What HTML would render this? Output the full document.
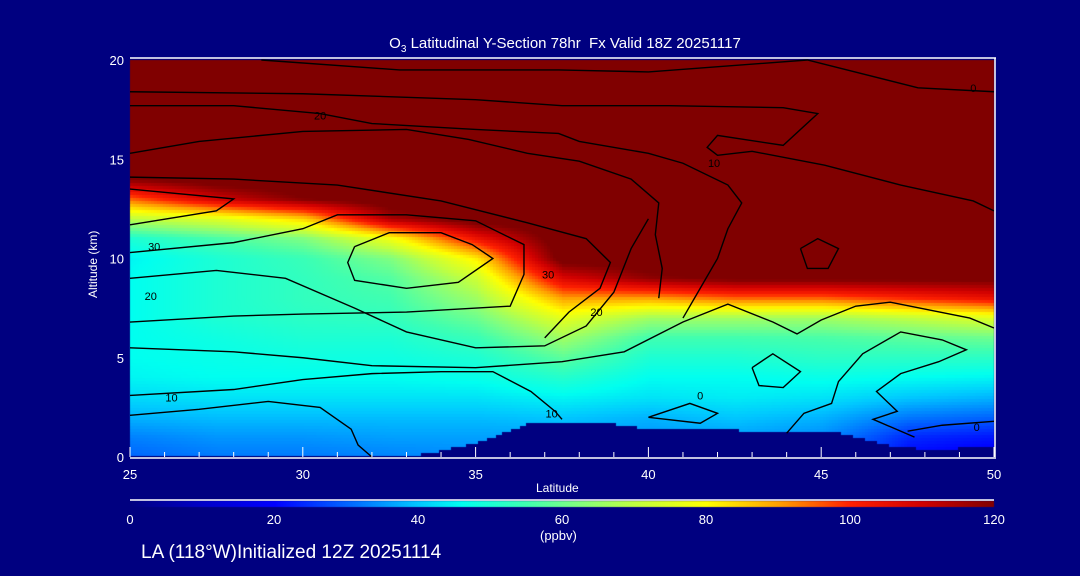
<!DOCTYPE html>
<html><head><meta charset="utf-8"><style>
body{margin:0;background:#000080;width:1080px;height:576px;overflow:hidden;font-family:"Liberation Sans",sans-serif;color:#fff}
#wrap{position:relative;width:1080px;height:576px}
.t{position:absolute;white-space:nowrap;color:#fff}
canvas,svg{position:absolute;left:0;top:0}
</style></head><body>
<div id="wrap">
<canvas id="field" width="1080" height="576"></canvas>
<svg id="ov" width="1080" height="576"></svg>
<div class="t" style="left:0;width:1130px;text-align:center;top:35px;font-size:15px">O<sub style="font-size:10px">3</sub> Latitudinal Y-Section 78hr&nbsp; Fx Valid 18Z 20251117</div>
<div class="t" style="left:86px;font-size:12px;transform:rotate(-90deg);transform-origin:0 0;top:298px">Altitude (km)</div>
<div class="t" style="left:536px;top:481px;font-size:12px">Latitude</div>
<div class="t" style="left:540px;top:528px;font-size:13px">(ppbv)</div>
<div class="t" style="left:141px;top:542px;font-size:19px">LA (118°W)Initialized 12Z 20251114</div>
</div>
<script>
const lats=[25,27.5,30,32.5,35,37.5,40,42.5,45,47.5,50];
const alts=[0,1,2,3,4,5,6,7,8,9,10,11,12,13,14,15,16,17,18,19,20];
// rows = altitude, columns = latitude (ppbv)
const o3=[
[30,32,32,33,34,34,34,34,34,20,18],
[33,35,35,36,36,36,35,36,34,24,22],
[38,39,39,39,39,40,38,40,38,32,30],
[42,43,43,43,43,45,43,44,43,40,38],
[45,46,46,46,47,51,46,46,47,46,45],
[46,47,48,48,50,58,50,50,52,52,52],
[46,48,50,50,54,66,55,55,56,58,60],
[46,50,52,53,60,76,66,66,66,70,75],
[46,50,53,55,66,90,90,95,95,100,105],
[46,50,53,57,72,108,118,122,122,122,122],
[45,50,54,62,82,124,125,125,125,125,125],
[50,56,62,78,104,125,125,125,125,125,125],
[70,75,85,115,125,125,125,125,125,125,125],
[95,110,120,125,125,125,125,125,125,125,125],
[120,125,125,125,125,125,125,125,125,125,125],
[125,125,125,125,125,125,125,125,125,125,125],
[125,125,125,125,125,125,125,125,125,125,125],
[125,125,125,125,125,125,125,125,125,125,125],
[125,125,125,125,125,125,125,125,125,125,125],
[125,125,125,125,125,125,125,125,125,125,125],
[125,125,125,125,125,125,125,125,125,125,125]];
const terrainLat=[25,33,34,35,36,36.5,37.5,39,40,42,44,45.5,46.5,47.2,48.5,50];
const terrainAlt=[0,0,0.3,0.7,1.3,1.65,1.75,1.65,1.4,1.35,1.3,1.2,0.8,0.45,0.4,0.5];
const contours=[
[[28.8,20],[32.8,19.5],[37.4,19.5],[40,19.4],[44.6,20],[47.8,18.6],[50,18.4]],
[[25,18.4],[30,18.3],[35,18],[37.5,17.7],[40.6,17.7],[43.9,17.6],[44.9,17.3],[43.9,15.7],[42,16.2],[41.7,15.6],[42,15.2],[43,15.4],[45.1,14.7],[47.3,13.7],[49.4,12.9],[50,12.4]],
[[25,17.7],[28,17.7],[30.5,17.3],[32,16.8],[35,16.5],[37.4,16.3],[38,15.9],[40,15.3],[41,14.8],[42.3,13.7],[42.7,12.8],[42.3,11.5],[42,10],[41.5,8.5],[41,7]],
[[25,15.3],[27,15.9],[30,16.4],[33,16.5],[34.8,16],[36.5,15.3],[38,14.9],[39.5,14],[40.3,12.8],[40.2,11.2],[40.4,9.5],[40.3,8]],
[[25,14.1],[28,14],[31,13.7],[34,12.9],[36.5,11.8],[38.2,11],[38.9,9.8],[38.6,8.5],[37.7,7.3],[37,6]],
[[25,13.5],[28,13],[27.5,12.4],[25,11.7]],
[[25,10.3],[28,10.8],[30,11.5],[31,12.2],[33,12.2],[35,11.9],[36.4,10.7],[36.4,9.2],[36,7.6],[33,7.3],[30,7.2],[28,7.1],[25,6.8]],
[[31.5,10.6],[32.5,11.3],[34,11.3],[34.9,10.7],[35.5,10],[34.5,8.8],[33,8.5],[31.5,8.9],[31.3,9.8],[31.5,10.6]],
[[25,9],[27.5,9.4],[29.5,9],[31.5,7.5],[33,6.3],[35,5.5],[37,5.6],[38.2,6.6],[39,8.3],[39.5,10.5],[40,12]],
[[25,5.5],[28,5.3],[30,5],[32,4.6],[35,4.5],[37.5,4.8],[39.3,5.3],[41,6.8],[42.3,7.7],[43.6,6.8],[44.3,6.2],[45,6.9],[46,7.6],[47,7.8],[49.3,7],[50,6.5]],
[[25,3.1],[28,3.4],[30,3.9],[32,4.2],[34,4.3],[35.5,4.3],[36.6,3.3],[37.3,2.3],[37.5,1.9]],
[[25,2.1],[27,2.4],[29,2.8],[30.5,2.5],[31.4,1.4],[31.6,0.6],[32,0]],
[[40,2],[41.2,2.7],[42,2.2],[41.5,1.7],[40,2]],
[[43,4.5],[43.6,5.2],[44.4,4.3],[43.9,3.5],[43.2,3.6],[43,4.5]],
[[44,1.2],[44.5,2.2],[45.3,2.7],[45.5,3.8],[46.2,5.2],[47.3,6.3],[48.5,5.9],[49.2,5.4],[48.4,4.8],[47.3,4.2],[46.6,3.3],[47.2,2.3],[46.5,1.9],[47.7,1]],
[[44.4,10.5],[44.9,11],[45.5,10.5],[45.2,9.5],[44.6,9.5],[44.4,10.5]],
[[47.5,1.3],[48.5,1.6],[50,1.8]]];
const labels=[[25.7,10.6,"30"],[25.6,8.1,"20"],[26.2,3.0,"10"],[30.5,17.2,"20"],[41.9,14.8,"10"],[37.1,9.2,"30"],[38.5,7.3,"20"],[37.2,2.2,"10"],[41.5,3.1,"0"],[49.4,18.6,"0"],[49.5,1.5,"0"]];
const X0=130,X1=994,Y0=60,Y1=457;
const sx=v=>X0+(v-25)/25*(X1-X0), sy=a=>Y1-a/20*(Y1-Y0);
const cstops=[[0,[0,0,128]],[10,[0,0,200]],[20,[0,0,255]],[30,[0,100,255]],[40,[0,200,255]],[46,[0,255,240]],[55,[64,255,176]],[62,[128,255,128]],[70,[192,255,64]],[80,[255,255,0]],[90,[255,160,0]],[100,[255,32,0]],[110,[208,0,0]],[120,[128,0,0]]];
function cmap(v){v=Math.max(0,Math.min(120,v));for(let i=1;i<cstops.length;i++){if(v<=cstops[i][0]){const a=cstops[i-1],b=cstops[i],t=(v-a[0])/(b[0]-a[0]);return a[1].map((c,k)=>Math.round(c+(b[1][k]-c)*t));}}return cstops[cstops.length-1][1];}
function val(lat,alt){let i=Math.min(lats.length-2,Math.floor((lat-25)/2.5)),j=Math.min(alts.length-2,Math.floor(alt));
const tx=(lat-lats[i])/2.5,ty=alt-alts[j];
return o3[j][i]*(1-tx)*(1-ty)+o3[j][i+1]*tx*(1-ty)+o3[j+1][i]*(1-tx)*ty+o3[j+1][i+1]*tx*ty;}
function terr(lat){for(let i=1;i<terrainLat.length;i++)if(lat<=terrainLat[i]){const t=(lat-terrainLat[i-1])/(terrainLat[i]-terrainLat[i-1]);return terrainAlt[i-1]+t*(terrainAlt[i]-terrainAlt[i-1]);}return terrainAlt[terrainAlt.length-1];}
const cv=document.getElementById('field'),ctx=cv.getContext('2d');
ctx.fillStyle='#000080';ctx.fillRect(0,0,1080,576);
const step=3;
for(let px=X0;px<X1;px+=step){const lat=25+(px-X0)/(X1-X0)*25;const th=terr(lat+step/69);
for(let py=Y0;py<Y1;py+=step){const alt=(Y1-py-step/2)/(Y1-Y0)*20;
if(alt<th){ctx.fillStyle='#000080';}else{const c=cmap(val(lat,alt));ctx.fillStyle=`rgb(${c[0]},${c[1]},${c[2]})`;}
ctx.fillRect(px,py,step,step);}}
for(let px=X0;px<X1;px++){const c=cmap((px-X0)/(X1-X0)*120);ctx.fillStyle=`rgb(${c[0]},${c[1]},${c[2]})`;ctx.fillRect(px,501,1,6);}
const NS='http://www.w3.org/2000/svg',ov=document.getElementById('ov');
function mk(tag,at){const e=document.createElementNS(NS,tag);for(const k in at)e.setAttribute(k,at[k]);ov.appendChild(e);return e;}
contours.forEach(c=>{const p=mk('polyline',{points:c.map(q=>sx(q[0])+','+sy(q[1])).join(' '),fill:'none',stroke:'#000','stroke-width':1.4});

});
labels.forEach(l=>{const t=mk('text',{x:sx(l[0]),y:sy(l[1])+4,'font-size':11,fill:'#000','text-anchor':'middle','font-family':'Liberation Sans, sans-serif'});t.textContent=l[2];

});
mk('line',{x1:X0,y1:58,x2:996,y2:58,stroke:'#fff','stroke-width':1.5});
mk('line',{x1:995,y1:58,x2:995,y2:Y1,stroke:'#fff','stroke-width':1.5});
mk('line',{x1:X0,y1:Y1+1,x2:996,y2:Y1+1,stroke:'#fff','stroke-width':1.5});
mk('line',{x1:X0,y1:500,x2:X1,y2:500,stroke:'#fff','stroke-width':1.5});
const xt=[25,30,35,40,45,50];
for(let v=25;v<=50;v++){mk('line',{x1:sx(v),y1:Y1,x2:sx(v),y2:Y1-(v%5?5:10),stroke:'#fff','stroke-width':1});}
xt.forEach(v=>{const t=mk('text',{x:sx(v),y:Y1+22,'font-size':13,fill:'#fff','text-anchor':'middle','font-family':'Liberation Sans, sans-serif'});t.textContent=v;

});
const yt=[0,5,10,15,20];
yt.forEach(v=>{const t=mk('text',{x:124,y:sy(v)+5,'font-size':13,fill:'#fff','text-anchor':'end','font-family':'Liberation Sans, sans-serif'});t.textContent=v;

});
const ct=[0,20,40,60,80,100,120];
ct.forEach(v=>{const t=mk('text',{x:X0+v/120*(X1-X0),y:524,'font-size':13,fill:'#fff','text-anchor':'middle','font-family':'Liberation Sans, sans-serif'});t.textContent=v;

});
</script>
</body></html>
